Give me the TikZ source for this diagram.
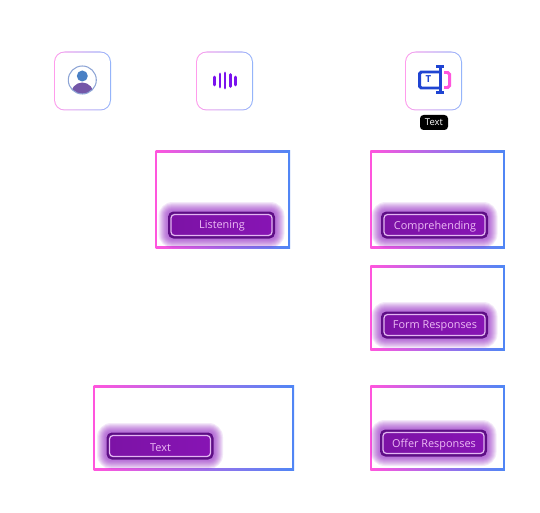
\documentclass[tikz,border=0pt]{standalone}
\usepackage{fontspec}
\setsansfont{Open Sans}
\usetikzlibrary{calc, positioning}
\definecolor{edgePink}{HTML}{FF55DD}
\definecolor{edgeMid}{HTML}{B56CF0}
\definecolor{edgeBlue}{HTML}{4F86F5}
\definecolor{softPink}{HTML}{FF9CEC}
\definecolor{softMid}{HTML}{DDB8F8}
\definecolor{softBlue}{HTML}{93B4FA}
\definecolor{glowPurple}{HTML}{8A12C0}
\definecolor{btnDark}{HTML}{5E0E86}
\definecolor{btnFill}{HTML}{8714B4}
\definecolor{btnEdge}{HTML}{E3B6F2}
\definecolor{btnText}{HTML}{EDBBF5}
\definecolor{barViolet}{HTML}{7A12EE}
\definecolor{textBlue}{HTML}{1F44D2}
\definecolor{headBlue}{HTML}{4A80C4}
\definecolor{bodyPurple}{HTML}{7457A8}
\tikzset{
  panel/.style={inner sep=0pt, outer sep=0pt, left color=edgePink, middle color=edgeMid, right color=edgeBlue},
  panelin/.style={inner sep=0pt, fill=white},
  iconbox/.style={inner sep=0pt, rounded corners=6pt, left color=softPink, middle color=softMid, right color=softBlue},
  iconin/.style={inner sep=0pt, fill=white, rounded corners=5.4pt},
  btnlabel/.style={inner sep=0pt, text=btnText, font=\sffamily\fontsize{6.2}{7}\selectfont},
  bar/.style={line width=1.6pt, line cap=round, barViolet},
}
% panel: centre x, centre y, width, height, name
\newcommand{\panelbox}[5]{
  \node[panel, minimum width=#3*0.02cm, minimum height=#4*0.02cm] (#5) at (#1,#2) {};
  \node[panelin, minimum width=#3*0.02cm-2pt, minimum height=#4*0.02cm-2pt] at (#5) {};
}
% button: centre x, centre y, name, label
\newcommand{\glowbtn}[4]{
  \foreach \g in {20,18,16,14,12,10,8,6,4}{
    \fill[glowPurple, opacity=0.09, rounded corners=\g*0.3pt+2pt] (#1-53-\g/2,#2-13-\g/2) rectangle (#1+53+\g/2,#2+13+\g/2);
  }
  \fill[btnDark, rounded corners=3pt] (#1-53.5,#2-13.5) rectangle (#1+53.5,#2+13.5);
  \shade[left color=btnFill!92!black, middle color=btnFill!85!magenta, right color=btnFill, rounded corners=2pt, draw=btnEdge, line width=0.7pt] (#1-50.5,#2-10.5) rectangle (#1+50.5,#2+10.5);
  \node[btnlabel] (#3) at (#1+0.5,#2+1.2) {#4};
}
% icon frame: centre x, name
\newcommand{\iconframe}[2]{
  \node[iconbox, minimum width=57*0.02cm, minimum height=59*0.02cm] (#2) at (#1,81) {};
  \node[iconin, minimum width=57*0.02cm-1.2pt, minimum height=59*0.02cm-1.2pt] at (#2) {};
}
\begin{document}
\begin{tikzpicture}[x=0.02cm,y=-0.02cm]
\useasboundingbox (0,0) rectangle (540,513);

% Icon frames
\iconframe{82.5}{userIcon}
\iconframe{224.5}{soundIcon}
\iconframe{433.5}{textIcon}

% User icon
\begin{scope}
  \clip (82.3,80) circle (13.8);
  \fill[bodyPurple] (82.3,96) ellipse (12 and 13.5);
\end{scope}
\draw[softBlue!70!gray, line width=0.6pt] (82.3,80) circle (14);
\fill[headBlue] (82.3,76) circle (5.5);

% Sound icon
\draw[bar] (214.7,77) -- (214.7,85);
\draw[bar] (220,74) -- (220,87);
\draw[bar] (225,73) -- (225,88);
\draw[bar] (230.7,74.5) -- (230.7,86.5);
\draw[bar] (235.5,77) -- (235.5,85);

% Text icon
\draw[textBlue, line width=1.7pt, rounded corners=1pt] (440,72) -- (419.5,72) -- (419.5,88) -- (440,88);
\draw[textBlue, line width=1.7pt] (440,66.5) -- (440,92.5);
\draw[textBlue, line width=1.5pt] (436,66.5) -- (444,66.5);
\draw[textBlue, line width=1.5pt] (436,92.5) -- (444,92.5);
\draw[edgePink, line width=1.7pt, rounded corners=1pt] (444,72.5) -- (449.5,72.5) -- (449.5,87.5) -- (444,87.5);
\node[inner sep=0pt, textBlue, font=\sffamily\bfseries\fontsize{5.5}{6}\selectfont] (textGlyph) at (428.5,79.5) {T};

% Tag under the text icon
\node[fill=black, text=white, rounded corners=2pt, inner sep=0pt, minimum width=28*0.02cm, minimum height=15*0.02cm, font=\sffamily\fontsize{5.4}{6}\selectfont] (textTag) at (434,122.5) {Text};

% Panels
\panelbox{222.8}{199.5}{134.5}{97.5}{listenBox}
\panelbox{437.5}{199.5}{134.5}{97.5}{compBox}
\panelbox{437.5}{308}{134.5}{84.5}{formBox}
\panelbox{193.8}{428}{200.5}{84.5}{blankBox}
\panelbox{437.5}{428}{134.5}{84.5}{offerBox}

% Buttons
\glowbtn{221.5}{225}{listenBtn}{Listening}
\glowbtn{434.5}{225}{compBtn}{Comprehending}
\glowbtn{434.5}{325}{formBtn}{Form Responses}
\glowbtn{160}{446}{blankBtn}{Text}
\glowbtn{433.5}{443}{offerBtn}{Offer Responses}
\end{tikzpicture}
\end{document}
